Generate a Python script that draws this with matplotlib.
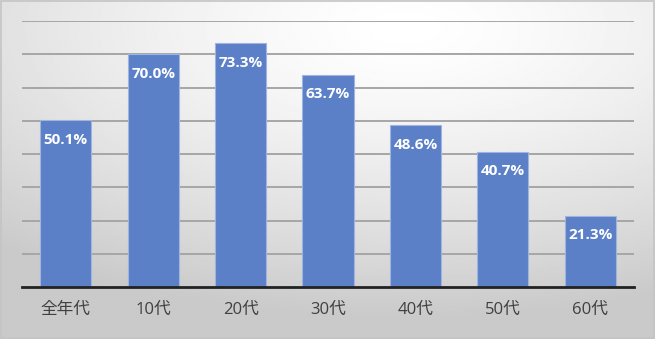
import numpy as np
import matplotlib.pyplot as plt

plt.rcParams['font.family'] = ['Open Sans', 'Noto Sans CJK JP', 'DejaVu Sans']

categories = ["全年代", "10代", "20代", "30代", "40代", "50代", "60代"]
values = [50.1, 70.0, 73.3, 63.7, 48.6, 40.7, 21.3]
labels = [f"{v:.1f}%" for v in values]

fig = plt.figure(figsize=(6.55, 3.39), dpi=100)

# radial gradient background
bg = fig.add_axes([0, 0, 1, 1])
gx, gy = np.meshgrid(np.linspace(0, 1, 400), np.linspace(0, 1, 200))
r = np.sqrt(((gx - 0.62) * 1.0) ** 2 + ((gy - 0.92) * 1.1) ** 2)
shade = 1.0 - 0.21 * np.clip(r / 0.95, 0, 1) ** 1.4
bg.imshow(shade, cmap="gray", vmin=0, vmax=1, origin="lower",
          extent=[0, 1, 0, 1], aspect="auto")
bg.axis("off")
fig.patches.append(plt.Rectangle((0.001, 0.002), 0.997, 0.995, transform=fig.transFigure,
                                 fill=False, edgecolor="#c4c4c4", linewidth=1.2))

ax = fig.add_axes([22 / 655, 1 - 287 / 339, 612 / 655, 266 / 339])
ax.patch.set_alpha(0)

x = np.arange(len(categories))
ax.bar(x, values, width=0.585, color="#5b80c8", edgecolor="#9fb5e0",
       linewidth=0.8, zorder=3)

for xi, v, lab in zip(x, values, labels):
    ax.text(xi, v - 5.8, lab, ha="center", va="center", color="white",
            fontsize=11, fontweight="bold", zorder=4)

ax.set_xlim(-0.5, len(categories) - 0.5)
ax.set_ylim(0, 80)
ax.set_yticks(np.arange(10, 81, 10))
ax.yaxis.grid(True, color="#a6a6a6", linewidth=1.4, zorder=0)
ax.tick_params(axis="y", length=0, labelleft=False)
ax.set_xticks(x)
ax.set_xticklabels(categories, fontsize=12, color="#404040")
ax.tick_params(axis="x", length=0, pad=11)
for side in ["top", "right", "left"]:
    ax.spines[side].set_visible(False)
ax.spines["bottom"].set_color("#222222")
ax.spines["bottom"].set_linewidth(2)
ax.spines["bottom"].set_zorder(5)

fig.savefig("out.png", dpi=100)
